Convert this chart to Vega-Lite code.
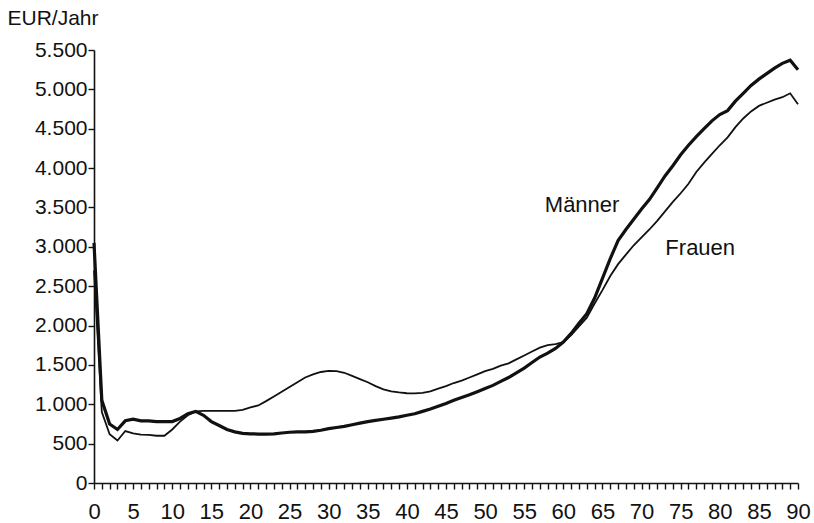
{
  "$schema": "https://vega.github.io/schema/vega-lite/v6.json",
  "width": 704,
  "height": 433,
  "autosize": {"type": "none"},
  "padding": {"left": 94, "top": 50, "right": 16, "bottom": 40},
  "background": "white",
  "config": {
    "view": {"stroke": null},
    "font": "Liberation Sans",
    "axis": {"grid": false, "domainColor": "#111", "tickColor": "#111", "labelColor": "#111", "titleColor": "#111", "labelFont": "Liberation Sans", "titleFont": "Liberation Sans", "titleFontWeight": "normal", "domainWidth": 1.6, "tickWidth": 1.4, "labelOverlap": false, "labelFlush": false}
  },
  "datasets": {
    "kosten": [
      {"alter": 0, "g": "Männer", "wert": 3050}, {"alter": 1, "g": "Männer", "wert": 1050}, {"alter": 2, "g": "Männer", "wert": 750},
      {"alter": 3, "g": "Männer", "wert": 680}, {"alter": 4, "g": "Männer", "wert": 790}, {"alter": 5, "g": "Männer", "wert": 810},
      {"alter": 6, "g": "Männer", "wert": 790}, {"alter": 7, "g": "Männer", "wert": 790}, {"alter": 8, "g": "Männer", "wert": 780},
      {"alter": 9, "g": "Männer", "wert": 780}, {"alter": 10, "g": "Männer", "wert": 780}, {"alter": 11, "g": "Männer", "wert": 820},
      {"alter": 12, "g": "Männer", "wert": 880}, {"alter": 13, "g": "Männer", "wert": 910}, {"alter": 14, "g": "Männer", "wert": 860},
      {"alter": 15, "g": "Männer", "wert": 780}, {"alter": 16, "g": "Männer", "wert": 730}, {"alter": 17, "g": "Männer", "wert": 680},
      {"alter": 18, "g": "Männer", "wert": 650}, {"alter": 19, "g": "Männer", "wert": 630}, {"alter": 20, "g": "Männer", "wert": 625},
      {"alter": 21, "g": "Männer", "wert": 622}, {"alter": 22, "g": "Männer", "wert": 622}, {"alter": 23, "g": "Männer", "wert": 625},
      {"alter": 24, "g": "Männer", "wert": 635}, {"alter": 25, "g": "Männer", "wert": 645}, {"alter": 26, "g": "Männer", "wert": 650},
      {"alter": 27, "g": "Männer", "wert": 650}, {"alter": 28, "g": "Männer", "wert": 655}, {"alter": 29, "g": "Männer", "wert": 670},
      {"alter": 30, "g": "Männer", "wert": 690}, {"alter": 31, "g": "Männer", "wert": 705}, {"alter": 32, "g": "Männer", "wert": 720},
      {"alter": 33, "g": "Männer", "wert": 740}, {"alter": 34, "g": "Männer", "wert": 760}, {"alter": 35, "g": "Männer", "wert": 780},
      {"alter": 36, "g": "Männer", "wert": 795}, {"alter": 37, "g": "Männer", "wert": 810}, {"alter": 38, "g": "Männer", "wert": 825},
      {"alter": 39, "g": "Männer", "wert": 840}, {"alter": 40, "g": "Männer", "wert": 860}, {"alter": 41, "g": "Männer", "wert": 880},
      {"alter": 42, "g": "Männer", "wert": 910}, {"alter": 43, "g": "Männer", "wert": 940}, {"alter": 44, "g": "Männer", "wert": 975},
      {"alter": 45, "g": "Männer", "wert": 1010}, {"alter": 46, "g": "Männer", "wert": 1050}, {"alter": 47, "g": "Männer", "wert": 1085},
      {"alter": 48, "g": "Männer", "wert": 1120}, {"alter": 49, "g": "Männer", "wert": 1160}, {"alter": 50, "g": "Männer", "wert": 1200},
      {"alter": 51, "g": "Männer", "wert": 1240}, {"alter": 52, "g": "Männer", "wert": 1290}, {"alter": 53, "g": "Männer", "wert": 1340},
      {"alter": 54, "g": "Männer", "wert": 1400}, {"alter": 55, "g": "Männer", "wert": 1460}, {"alter": 56, "g": "Männer", "wert": 1530},
      {"alter": 57, "g": "Männer", "wert": 1600}, {"alter": 58, "g": "Männer", "wert": 1650}, {"alter": 59, "g": "Männer", "wert": 1710},
      {"alter": 60, "g": "Männer", "wert": 1790}, {"alter": 61, "g": "Männer", "wert": 1900}, {"alter": 62, "g": "Männer", "wert": 2030},
      {"alter": 63, "g": "Männer", "wert": 2150}, {"alter": 64, "g": "Männer", "wert": 2350}, {"alter": 65, "g": "Männer", "wert": 2600},
      {"alter": 66, "g": "Männer", "wert": 2850}, {"alter": 67, "g": "Männer", "wert": 3080}, {"alter": 68, "g": "Männer", "wert": 3220},
      {"alter": 69, "g": "Männer", "wert": 3350}, {"alter": 70, "g": "Männer", "wert": 3480}, {"alter": 71, "g": "Männer", "wert": 3600},
      {"alter": 72, "g": "Männer", "wert": 3750}, {"alter": 73, "g": "Männer", "wert": 3900}, {"alter": 74, "g": "Männer", "wert": 4030},
      {"alter": 75, "g": "Männer", "wert": 4170}, {"alter": 76, "g": "Männer", "wert": 4290}, {"alter": 77, "g": "Männer", "wert": 4400},
      {"alter": 78, "g": "Männer", "wert": 4500}, {"alter": 79, "g": "Männer", "wert": 4600}, {"alter": 80, "g": "Männer", "wert": 4680},
      {"alter": 81, "g": "Männer", "wert": 4730}, {"alter": 82, "g": "Männer", "wert": 4850}, {"alter": 83, "g": "Männer", "wert": 4950},
      {"alter": 84, "g": "Männer", "wert": 5050}, {"alter": 85, "g": "Männer", "wert": 5130}, {"alter": 86, "g": "Männer", "wert": 5200},
      {"alter": 87, "g": "Männer", "wert": 5270}, {"alter": 88, "g": "Männer", "wert": 5330}, {"alter": 89, "g": "Männer", "wert": 5370},
      {"alter": 90, "g": "Männer", "wert": 5250},
      {"alter": 0, "g": "Frauen", "wert": 2700}, {"alter": 1, "g": "Frauen", "wert": 900}, {"alter": 2, "g": "Frauen", "wert": 620},
      {"alter": 3, "g": "Frauen", "wert": 540}, {"alter": 4, "g": "Frauen", "wert": 660}, {"alter": 5, "g": "Frauen", "wert": 630},
      {"alter": 6, "g": "Frauen", "wert": 615}, {"alter": 7, "g": "Frauen", "wert": 610}, {"alter": 8, "g": "Frauen", "wert": 600},
      {"alter": 9, "g": "Frauen", "wert": 600}, {"alter": 10, "g": "Frauen", "wert": 680}, {"alter": 11, "g": "Frauen", "wert": 780},
      {"alter": 12, "g": "Frauen", "wert": 860}, {"alter": 13, "g": "Frauen", "wert": 910}, {"alter": 14, "g": "Frauen", "wert": 915},
      {"alter": 15, "g": "Frauen", "wert": 915}, {"alter": 16, "g": "Frauen", "wert": 915}, {"alter": 17, "g": "Frauen", "wert": 915},
      {"alter": 18, "g": "Frauen", "wert": 915}, {"alter": 19, "g": "Frauen", "wert": 930}, {"alter": 20, "g": "Frauen", "wert": 960},
      {"alter": 21, "g": "Frauen", "wert": 985}, {"alter": 22, "g": "Frauen", "wert": 1040}, {"alter": 23, "g": "Frauen", "wert": 1100},
      {"alter": 24, "g": "Frauen", "wert": 1160}, {"alter": 25, "g": "Frauen", "wert": 1220}, {"alter": 26, "g": "Frauen", "wert": 1280},
      {"alter": 27, "g": "Frauen", "wert": 1340}, {"alter": 28, "g": "Frauen", "wert": 1380}, {"alter": 29, "g": "Frauen", "wert": 1410},
      {"alter": 30, "g": "Frauen", "wert": 1425}, {"alter": 31, "g": "Frauen", "wert": 1420}, {"alter": 32, "g": "Frauen", "wert": 1400},
      {"alter": 33, "g": "Frauen", "wert": 1360}, {"alter": 34, "g": "Frauen", "wert": 1320}, {"alter": 35, "g": "Frauen", "wert": 1280},
      {"alter": 36, "g": "Frauen", "wert": 1230}, {"alter": 37, "g": "Frauen", "wert": 1190}, {"alter": 38, "g": "Frauen", "wert": 1165},
      {"alter": 39, "g": "Frauen", "wert": 1150}, {"alter": 40, "g": "Frauen", "wert": 1140}, {"alter": 41, "g": "Frauen", "wert": 1138},
      {"alter": 42, "g": "Frauen", "wert": 1145}, {"alter": 43, "g": "Frauen", "wert": 1165}, {"alter": 44, "g": "Frauen", "wert": 1200},
      {"alter": 45, "g": "Frauen", "wert": 1230}, {"alter": 46, "g": "Frauen", "wert": 1270}, {"alter": 47, "g": "Frauen", "wert": 1300},
      {"alter": 48, "g": "Frauen", "wert": 1340}, {"alter": 49, "g": "Frauen", "wert": 1380}, {"alter": 50, "g": "Frauen", "wert": 1420},
      {"alter": 51, "g": "Frauen", "wert": 1450}, {"alter": 52, "g": "Frauen", "wert": 1490}, {"alter": 53, "g": "Frauen", "wert": 1520},
      {"alter": 54, "g": "Frauen", "wert": 1570}, {"alter": 55, "g": "Frauen", "wert": 1620}, {"alter": 56, "g": "Frauen", "wert": 1670},
      {"alter": 57, "g": "Frauen", "wert": 1720}, {"alter": 58, "g": "Frauen", "wert": 1750}, {"alter": 59, "g": "Frauen", "wert": 1765},
      {"alter": 60, "g": "Frauen", "wert": 1790}, {"alter": 61, "g": "Frauen", "wert": 1880}, {"alter": 62, "g": "Frauen", "wert": 1990},
      {"alter": 63, "g": "Frauen", "wert": 2100}, {"alter": 64, "g": "Frauen", "wert": 2280}, {"alter": 65, "g": "Frauen", "wert": 2450},
      {"alter": 66, "g": "Frauen", "wert": 2630}, {"alter": 67, "g": "Frauen", "wert": 2780}, {"alter": 68, "g": "Frauen", "wert": 2900},
      {"alter": 69, "g": "Frauen", "wert": 3020}, {"alter": 70, "g": "Frauen", "wert": 3120}, {"alter": 71, "g": "Frauen", "wert": 3220},
      {"alter": 72, "g": "Frauen", "wert": 3330}, {"alter": 73, "g": "Frauen", "wert": 3450}, {"alter": 74, "g": "Frauen", "wert": 3570},
      {"alter": 75, "g": "Frauen", "wert": 3680}, {"alter": 76, "g": "Frauen", "wert": 3800}, {"alter": 77, "g": "Frauen", "wert": 3950},
      {"alter": 78, "g": "Frauen", "wert": 4070}, {"alter": 79, "g": "Frauen", "wert": 4180}, {"alter": 80, "g": "Frauen", "wert": 4290},
      {"alter": 81, "g": "Frauen", "wert": 4390}, {"alter": 82, "g": "Frauen", "wert": 4520}, {"alter": 83, "g": "Frauen", "wert": 4630},
      {"alter": 84, "g": "Frauen", "wert": 4720}, {"alter": 85, "g": "Frauen", "wert": 4790}, {"alter": 86, "g": "Frauen", "wert": 4830},
      {"alter": 87, "g": "Frauen", "wert": 4870}, {"alter": 88, "g": "Frauen", "wert": 4900}, {"alter": 89, "g": "Frauen", "wert": 4950},
      {"alter": 90, "g": "Frauen", "wert": 4810}
    ],
    "labels": [
      {"alter": 62.4, "wert": 3531, "text": "Männer"},
      {"alter": 77.5, "wert": 2991, "text": "Frauen"}
    ]
  },
  "encoding": {
    "x": {"field": "alter", "type": "quantitative", "scale": {"domain": [0, 90], "nice": false, "zero": false},
      "axis": {"title": null, "values": [0,1,2,3,4,5,6,7,8,9,10,11,12,13,14,15,16,17,18,19,20,21,22,23,24,25,26,27,28,29,30,31,32,33,34,35,36,37,38,39,40,41,42,43,44,45,46,47,48,49,50,51,52,53,54,55,56,57,58,59,60,61,62,63,64,65,66,67,68,69,70,71,72,73,74,75,76,77,78,79,80,81,82,83,84,85,86,87,88,89,90],
        "labelExpr": "datum.value % 5 === 0 ? datum.label : ''", "labelOverlap": false, "labelFlush": false,
        "tickSize": 6, "labelPadding": 12, "labelFontSize": 22, "labelBaseline": "top"}},
    "y": {"field": "wert", "type": "quantitative", "scale": {"domain": [0, 5500], "nice": false},
      "axis": {"values": [0,500,1000,1500,2000,2500,3000,3500,4000,4500,5000,5500],
        "labelExpr": "replace(format(datum.value, ','), ',', '.')", "labelOverlap": false,
        "tickSize": 6, "labelPadding": 1, "labelFontSize": 21,
        "title": "EUR/Jahr", "titleAngle": 0, "titleFontSize": 21, "titleAlign": "left", "titleBaseline": "middle",
        "titleX": -87, "titleY": -32}}
  },
  "layer": [
    {
      "data": {"name": "kosten"},
      "mark": {"type": "line", "color": "#111"},
      "encoding": {
        "detail": {"field": "g", "type": "nominal"},
        "strokeWidth": {"field": "g", "type": "nominal", "scale": {"domain": ["Männer", "Frauen"], "range": [3.2, 1.8]}, "legend": null}
      }
    },
    {
      "data": {"name": "labels"},
      "mark": {"type": "text", "fontSize": 22, "color": "#111", "align": "center", "baseline": "middle"},
      "encoding": {
        "text": {"field": "text"}
      }
    }
  ]
}
